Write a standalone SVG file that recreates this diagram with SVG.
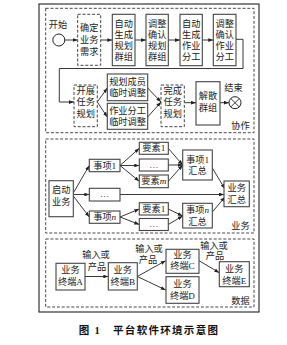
<svg xmlns="http://www.w3.org/2000/svg" width="287" height="345" viewBox="0 0 287 345">
<style>
text{font-family:"Liberation Serif","Noto Sans CJK SC",serif;font-size:9.2px;fill:#222;text-anchor:middle;dominant-baseline:central}
.box{fill:#fff;stroke:#444;stroke-width:1.1}
.dbox{fill:#fff;stroke:#444;stroke-width:1;stroke-dasharray:3 1.8}
.sec{fill:none;stroke:#333;stroke-width:0.9;stroke-dasharray:3 1.8}
.ln{fill:none;stroke:#222;stroke-width:0.9}
.ar{fill:none;stroke:#222;stroke-width:0.9;marker-end:url(#ah)}
.it{font-style:italic}
.cap{font-size:10.5px;font-weight:bold;letter-spacing:1.3px;fill:#111}
</style>
<defs>
<marker id="ah" viewBox="0 0 8 6" refX="8" refY="3" markerWidth="5" markerHeight="3.8" orient="auto" markerUnits="userSpaceOnUse">
<path d="M0,0 L8,3 L0,6 z" fill="#222"/>
</marker>
</defs>
<rect x="39" y="4" width="220" height="308" fill="#fff" stroke="#222" stroke-width="1.1"/>
<g id="sections">
<rect class="sec" x="45.7" y="8.3" width="208.3" height="124.4"/>
<rect class="sec" x="45.7" y="139" width="208.3" height="94"/>
<rect class="sec" x="45.7" y="239" width="208.3" height="68"/>
<text x="240.5" y="126">协作</text>
<text x="240.5" y="225.5">业务</text>
<text x="240.5" y="301">数据</text>
</g>
<g id="connectors">
<path class="ar" d="M65,40 H77.7"/>
<path class="ar" d="M100.7,40 H112.3"/>
<path class="ar" d="M135,40 H146"/>
<path class="ar" d="M168.3,40 H180"/>
<path class="ar" d="M202.3,40 H213.3"/>
<path class="ar" d="M236,39.3 H243 V68.5 H59.3 V102 H74"/>
<path class="ar" d="M97.3,102 L107.3,88"/>
<path class="ar" d="M97.3,102 L107.3,117"/>
<path class="ar" d="M147.7,88 L161,102"/>
<path class="ar" d="M147.7,117 L161,102"/>
<path class="ar" d="M184.3,102.7 H196"/>
<path class="ar" d="M220,102.7 H229"/>
<path class="ar" d="M73.3,193 L89.3,165.5"/>
<path class="ar" d="M73.3,194.5 H89.3"/>
<path class="ar" d="M73.3,196 L89.3,217"/>
<path class="ar" d="M120,165.5 L139.3,148.3"/>
<path class="ar" d="M120,165.5 H139.3"/>
<path class="ar" d="M120,165.5 L139.3,181.3"/>
<path class="ar" d="M168.3,148.3 L182.7,165"/>
<path class="ar" d="M168.3,165 H182.7"/>
<path class="ar" d="M168.3,181.3 L182.7,165"/>
<path class="ar" d="M120,194.5 H224"/>
<path class="ar" d="M120,217 L139.3,209"/>
<path class="ar" d="M120,217 L139.3,224.5"/>
<path class="ar" d="M168.3,209 L182.7,216"/>
<path class="ar" d="M168.3,224.5 L182.7,216"/>
<path class="ar" d="M212.3,168 L225,189"/>
<path class="ar" d="M212.3,212 L225,197"/>
<path class="ar" d="M85,276.5 H108.3"/>
<path class="ar" d="M137.3,276.5 L165.7,260.7"/>
<path class="ar" d="M137.3,276.5 L165.7,290"/>
<path class="ar" d="M199,260.7 L219.3,272.7"/>
<text x="96" y="255">输入或</text>
<text x="97" y="266.5">产品</text>
<text x="149" y="249">输入或</text>
<text x="148" y="259.5">产品</text>
<text x="214" y="246">输入或</text>
<text x="215" y="255.5">产品</text>
</g>
<g id="start">
<text x="58" y="25">开始</text>
<circle cx="58.8" cy="40" r="6" fill="#fff" stroke="#222" stroke-width="1"/>
</g>
<g id="n-confirm">
<rect class="dbox" x="77.7" y="14.3" width="23" height="51"/>
<text x="89.2" y="28">确定</text><text x="89.2" y="40">业务</text><text x="89.2" y="52">需求</text>
</g>
<g id="n-autogroup">
<rect class="box" x="112.3" y="14.3" width="22.7" height="51.4"/>
<text x="123.7" y="24">自动</text><text x="123.7" y="35">生成</text><text x="123.7" y="46">规划</text><text x="123.7" y="57">群组</text>
</g>
<g id="n-adjgroup">
<rect class="box" x="146" y="14.3" width="22.3" height="51.4"/>
<text x="157.2" y="24">调整</text><text x="157.2" y="35">确认</text><text x="157.2" y="46">规划</text><text x="157.2" y="57">群组</text>
</g>
<g id="n-autowork">
<rect class="box" x="180" y="14.3" width="22.3" height="51.4"/>
<text x="191.2" y="24">自动</text><text x="191.2" y="35">生成</text><text x="191.2" y="46">作业</text><text x="191.2" y="57">分工</text>
</g>
<g id="n-adjwork">
<rect class="box" x="213.3" y="14.3" width="22.7" height="51.4"/>
<text x="224.7" y="24">调整</text><text x="224.7" y="35">确认</text><text x="224.7" y="46">作业</text><text x="224.7" y="57">分工</text>
</g>
<g id="n-startplan">
<rect class="dbox" x="74" y="85" width="23.3" height="41.7"/>
<text x="85.7" y="90.5">开展</text><text x="85.7" y="102">任务</text><text x="85.7" y="113.5">规划</text>
</g>
<g id="n-member">
<rect class="box" x="107.3" y="74" width="40.4" height="26.7"/>
<text x="127.5" y="81.7">规划成员</text><text x="127.5" y="92.7">临时调整</text>
</g>
<g id="n-work">
<rect class="box" x="107.3" y="103.3" width="40.4" height="26"/>
<text x="127.5" y="111.3">作业分工</text><text x="127.5" y="122.3">临时调整</text>
</g>
<g id="n-doneplan">
<rect class="dbox" x="161" y="85" width="23.3" height="41.7"/>
<text x="172.7" y="90.5">完成</text><text x="172.7" y="102">任务</text><text x="172.7" y="113.5">规划</text>
</g>
<g id="n-dissolve">
<rect class="box" x="196" y="81.7" width="24" height="43.3"/>
<text x="208" y="95.5">解散</text><text x="208" y="107.5">群组</text>
</g>
<g id="end">
<text x="233.5" y="88.3">结束</text>
<circle cx="235" cy="102.7" r="6" fill="#fff" stroke="#222" stroke-width="1"/>
<path d="M230.8,98.5 L239.2,106.9 M239.2,98.5 L230.8,106.9" stroke="#222" stroke-width="0.9"/>
</g>
<g id="n-startbiz">
<rect class="box" x="49" y="180.7" width="24.3" height="36"/>
<text x="61.2" y="190">启动</text><text x="61.2" y="202">业务</text>
</g>
<g id="n-item1">
<rect class="box" x="89.3" y="159.3" width="30.7" height="12.4"/>
<text x="104.7" y="165.5">事项1</text>
</g>
<g id="n-itemdots">
<rect class="box" x="89.3" y="188.3" width="30.7" height="12.7"/>
<text x="104.7" y="194">…</text>
</g>
<g id="n-itemn">
<rect class="box" x="89.3" y="211" width="30.7" height="12.3"/>
<text x="104.7" y="217.2">事项<tspan class="it">n</tspan></text>
</g>
<g id="n-e11">
<rect class="box" x="139.3" y="142.3" width="29" height="12"/>
<text x="153.8" y="148.3">要素1</text>
</g>
<g id="n-e12">
<rect class="box" x="139.3" y="159" width="29" height="12"/>
<text x="153.8" y="164.5">…</text>
</g>
<g id="n-e1m">
<rect class="box" x="139.3" y="175" width="29" height="12.7"/>
<text x="153.8" y="181.3">要素<tspan class="it">m</tspan></text>
</g>
<g id="n-en1">
<rect class="box" x="139.3" y="202.7" width="29" height="12.3"/>
<text x="153.8" y="208.8">要素1</text>
</g>
<g id="n-en2">
<rect class="box" x="139.3" y="218.5" width="29" height="12"/>
<text x="153.8" y="224">…</text>
</g>
<g id="n-sum1">
<rect class="box" x="182.7" y="150" width="29.6" height="30"/>
<text x="197.5" y="160">事项1</text><text x="197.5" y="171">汇总</text>
</g>
<g id="n-sumn">
<rect class="box" x="182.7" y="203.3" width="29.6" height="24.7"/>
<text x="197.5" y="210">事项<tspan class="it">n</tspan></text><text x="197.5" y="222">汇总</text>
</g>
<g id="n-bizsum">
<rect class="box" x="224" y="181" width="25.3" height="25.7"/>
<text x="236.7" y="188.3">业务</text><text x="236.7" y="200">汇总</text>
</g>
<g id="n-tA">
<rect class="box" x="56" y="263.3" width="29" height="26.7"/>
<text x="70.5" y="270">业务</text><text x="70.5" y="281.7">终端A</text>
</g>
<g id="n-tB">
<rect class="box" x="108.3" y="262.7" width="29" height="27.3"/>
<text x="122.8" y="270">业务</text><text x="122.8" y="281.7">终端B</text>
</g>
<g id="n-tC">
<rect class="box" x="166" y="249.3" width="33" height="24"/>
<text x="182.5" y="255">业务</text><text x="182.5" y="266">终端C</text>
</g>
<g id="n-tD">
<rect class="box" x="166" y="276.7" width="33" height="26.6"/>
<text x="182.5" y="283.5">业务</text><text x="182.5" y="296">终端D</text>
</g>
<g id="n-tE">
<rect class="box" x="219.3" y="261.7" width="30" height="25"/>
<text x="234.3" y="269">业务</text><text x="234.3" y="280.5">终端E</text>
</g>
<text class="cap" x="149" y="330">图 1<tspan dx="12">平台软件环境示意图</tspan></text>
</svg>
